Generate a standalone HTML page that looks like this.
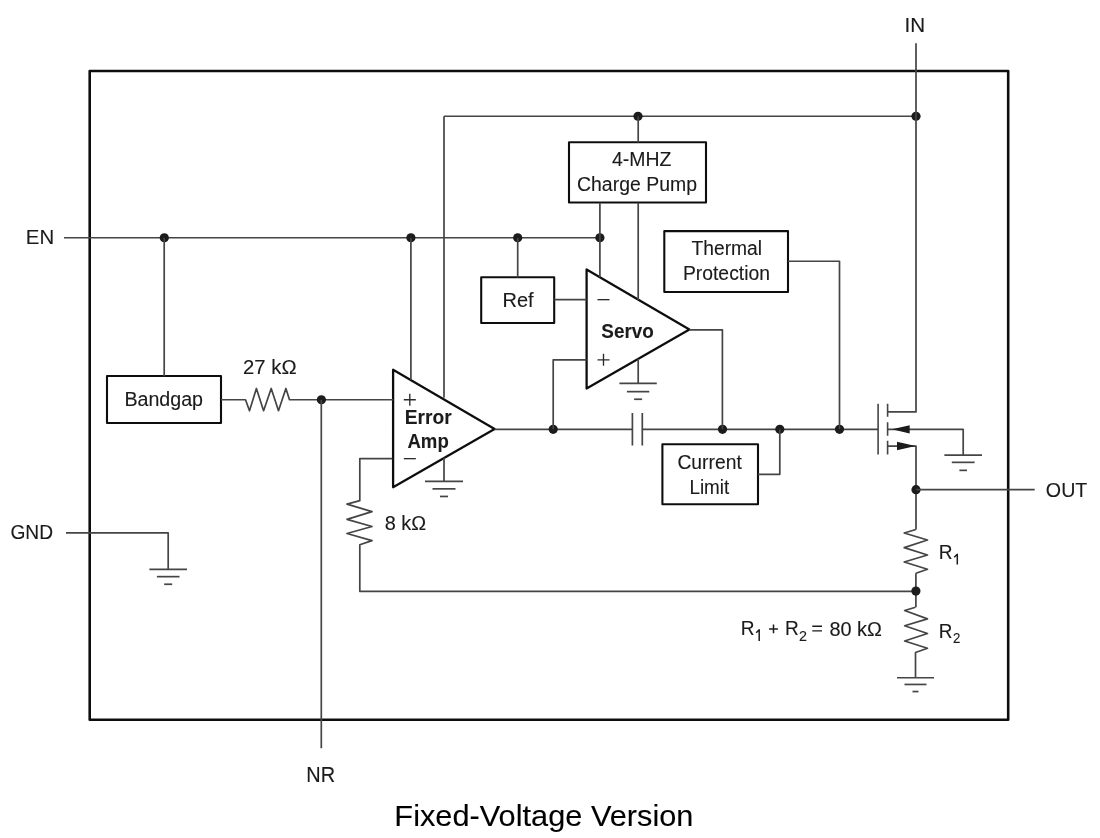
<!DOCTYPE html>
<html><head><meta charset="utf-8"><style>
html,body{margin:0;padding:0;background:#fff;width:1100px;height:838px;overflow:hidden}
svg{display:block;font-family:"Liberation Sans",sans-serif}
</style></head><body>
<svg width="1100" height="838" viewBox="0 0 1100 838">
<defs><filter id="bl" x="0" y="0" width="1100" height="838" filterUnits="userSpaceOnUse"><feGaussianBlur stdDeviation="0.4"/></filter></defs>
<rect width="1100" height="838" fill="#fff"/>
<g filter="url(#bl)">
<rect width="1100" height="838" fill="#fff"/>
<rect x="89.7" y="71" width="918.5" height="648.7" fill="none" stroke="#111" stroke-width="2.6" stroke-linejoin="round"/>
<rect x="107" y="376" width="114.00" height="47.00" fill="none" stroke="#111" stroke-width="2.1" stroke-linejoin="round"/>
<rect x="569" y="142.2" width="137.00" height="60.30" fill="none" stroke="#111" stroke-width="2.1" stroke-linejoin="round"/>
<rect x="481.2" y="277.3" width="73.00" height="45.70" fill="none" stroke="#111" stroke-width="2.1" stroke-linejoin="round"/>
<rect x="664.3" y="231.1" width="123.70" height="60.90" fill="none" stroke="#111" stroke-width="2.1" stroke-linejoin="round"/>
<rect x="662.4" y="444.2" width="95.60" height="60.10" fill="none" stroke="#111" stroke-width="2.1" stroke-linejoin="round"/>
<path d="M393.1,369.8V487.3L494.6,429.1Z" fill="none" stroke="#111" stroke-width="2.3" stroke-linejoin="round"/>
<path d="M586.6,269.4V388.6L689.4,329.6Z" fill="none" stroke="#111" stroke-width="2.3" stroke-linejoin="round"/>
<g transform="translate(0,0.25)">
<path d="M64,237.5H599.9" stroke="#444444" stroke-width="1.7" fill="none" stroke-linejoin="round"/>
<circle cx="164.3" cy="237.5" r="4.6" fill="#1a1a1a"/>
<circle cx="410.9" cy="237.5" r="4.6" fill="#1a1a1a"/>
<circle cx="517.7" cy="237.5" r="4.6" fill="#1a1a1a"/>
<circle cx="599.9" cy="237.5" r="4.6" fill="#1a1a1a"/>
<path d="M164.2,237.5V376" stroke="#444444" stroke-width="1.7" fill="none" stroke-linejoin="round"/>
<path d="M221,399.5H245.5L249.5,410.5L256.4,388.2L263.6,410.5L271.2,388.2L278.5,410.5L285.9,388.2L289.5,399.5H393" stroke="#444444" stroke-width="1.7" fill="none" stroke-linejoin="round"/>
<circle cx="321.4" cy="399.5" r="4.6" fill="#1a1a1a"/>
<path d="M321.3,399.5V748" stroke="#444444" stroke-width="1.7" fill="none" stroke-linejoin="round"/>
<path d="M410.9,237.5V379.7" stroke="#444444" stroke-width="1.7" fill="none" stroke-linejoin="round"/>
<path d="M444,116V397.5" stroke="#444444" stroke-width="1.7" fill="none" stroke-linejoin="round"/>
<path d="M444,457.5V481.2" stroke="#444444" stroke-width="1.7" fill="none" stroke-linejoin="round"/>
<path d="M425,481.2H463" stroke="#444444" stroke-width="1.7" fill="none" stroke-linejoin="round"/>
<path d="M432.5,488.6H455.5" stroke="#444444" stroke-width="1.7" fill="none" stroke-linejoin="round"/>
<path d="M440,496.2H448" stroke="#444444" stroke-width="1.7" fill="none" stroke-linejoin="round"/>
<path d="M403.8,399.5H415.8M409.8,393.5V405.5" stroke="#2a2a2a" stroke-width="1.35" fill="none" stroke-linejoin="round"/>
<path d="M403.8,458.4H415.8" stroke="#2a2a2a" stroke-width="1.35" fill="none" stroke-linejoin="round"/>
<path d="M392.3,458.3H359.8V500.4L347,503.9L372,511.4L347,519.1L372,526.2L347,533.3L372,540.4L359.8,544.5V591.1H915.9" stroke="#444444" stroke-width="1.7" fill="none" stroke-linejoin="round"/>
<path d="M494.6,429.1H632.5M642.2,429.1H878.1" stroke="#444444" stroke-width="1.7" fill="none" stroke-linejoin="round"/>
<path d="M632.4,412.7V445.2M642.3,412.7V445.2" stroke="#444444" stroke-width="1.7" fill="none" stroke-linejoin="round"/>
<circle cx="553.2" cy="429.1" r="4.6" fill="#1a1a1a"/>
<circle cx="722.5" cy="429.1" r="4.6" fill="#1a1a1a"/>
<circle cx="779.8" cy="429.1" r="4.6" fill="#1a1a1a"/>
<circle cx="839.5" cy="429.1" r="4.6" fill="#1a1a1a"/>
<path d="M553.2,429.1V359.6H586.6" stroke="#444444" stroke-width="1.7" fill="none" stroke-linejoin="round"/>
<path d="M444,116H916" stroke="#444444" stroke-width="1.7" fill="none" stroke-linejoin="round"/>
<circle cx="638" cy="116" r="4.6" fill="#1a1a1a"/>
<circle cx="916" cy="116" r="4.6" fill="#1a1a1a"/>
<path d="M638.2,116V142.2" stroke="#444444" stroke-width="1.7" fill="none" stroke-linejoin="round"/>
<path d="M599.9,202.5V277" stroke="#444444" stroke-width="1.7" fill="none" stroke-linejoin="round"/>
<path d="M638.2,202.5V299.7" stroke="#444444" stroke-width="1.7" fill="none" stroke-linejoin="round"/>
<path d="M638.2,358.3V383.2" stroke="#444444" stroke-width="1.7" fill="none" stroke-linejoin="round"/>
<path d="M619.4,383.2H656.8000000000001" stroke="#444444" stroke-width="1.7" fill="none" stroke-linejoin="round"/>
<path d="M626.9,391.4H649.3000000000001" stroke="#444444" stroke-width="1.7" fill="none" stroke-linejoin="round"/>
<path d="M634.1,399H642.1" stroke="#444444" stroke-width="1.7" fill="none" stroke-linejoin="round"/>
<path d="M517.7,237.5V277.3" stroke="#444444" stroke-width="1.7" fill="none" stroke-linejoin="round"/>
<path d="M554.2,299.4H586.6" stroke="#444444" stroke-width="1.7" fill="none" stroke-linejoin="round"/>
<path d="M597.5,299.4H609.5" stroke="#2a2a2a" stroke-width="1.35" fill="none" stroke-linejoin="round"/>
<path d="M597.5,359.6H609.5M603.5,353.6V365.6" stroke="#2a2a2a" stroke-width="1.35" fill="none" stroke-linejoin="round"/>
<path d="M689.4,329.7H722.4V429.1" stroke="#444444" stroke-width="1.7" fill="none" stroke-linejoin="round"/>
<path d="M788,261H839.5V429.1" stroke="#444444" stroke-width="1.7" fill="none" stroke-linejoin="round"/>
<path d="M758,474.1H779.8V429.1" stroke="#444444" stroke-width="1.7" fill="none" stroke-linejoin="round"/>
<path d="M878.1,403.5V454.3" stroke="#444444" stroke-width="1.6" fill="none" stroke-linejoin="round"/>
<path d="M887.6,403.5V416.6M887.6,422V435.5M887.6,440.4V454.3" stroke="#444444" stroke-width="1.6" fill="none" stroke-linejoin="round"/>
<path d="M887.6,411.7H916V43" stroke="#444444" stroke-width="1.7" fill="none" stroke-linejoin="round"/>
<path d="M887.6,429.1H963.2V454.8" stroke="#444444" stroke-width="1.7" fill="none" stroke-linejoin="round"/>
<path d="M892,429.1L909.7,424.90000000000003V433.3Z" fill="#1a1a1a"/>
<path d="M887.6,445.8H916V529.2" stroke="#444444" stroke-width="1.7" fill="none" stroke-linejoin="round"/>
<path d="M915.5,445.8L897,441.6V450Z" fill="#1a1a1a"/>
<path d="M944.4000000000001,454.8H982.0" stroke="#444444" stroke-width="1.7" fill="none" stroke-linejoin="round"/>
<path d="M951.8000000000001,462.1H974.6" stroke="#444444" stroke-width="1.7" fill="none" stroke-linejoin="round"/>
<path d="M959.4000000000001,470.1H967.0" stroke="#444444" stroke-width="1.7" fill="none" stroke-linejoin="round"/>
<circle cx="916" cy="489.4" r="4.6" fill="#1a1a1a"/>
<path d="M916,489.4H1034.7" stroke="#444444" stroke-width="1.7" fill="none" stroke-linejoin="round"/>
<path d="M915.9,573L927.5,569L904.2,561.8L927.5,554.8L904.2,547.4L927.5,539.8L904.2,532.7L915.9,529.2" stroke="#444444" stroke-width="1.7" fill="none" stroke-linejoin="round"/>
<path d="M915.9,573V607" stroke="#444444" stroke-width="1.7" fill="none" stroke-linejoin="round"/>
<circle cx="915.9" cy="590.8" r="4.6" fill="#1a1a1a"/>
<path d="M915.5,607L904.6,610.3L927.5,618.6L904.6,625.5L927.5,633.2L904.6,640.8L927.5,648L915.5,652.2V677.5" stroke="#444444" stroke-width="1.7" fill="none" stroke-linejoin="round"/>
<path d="M897.0,677.5H934.0" stroke="#444444" stroke-width="1.7" fill="none" stroke-linejoin="round"/>
<path d="M904.5,684.2H926.5" stroke="#444444" stroke-width="1.7" fill="none" stroke-linejoin="round"/>
<path d="M912.5,691.3H918.5" stroke="#444444" stroke-width="1.7" fill="none" stroke-linejoin="round"/>
<path d="M773.5,624.5V633.3M769.1,628.9H777.9" stroke="#1a1a1a" stroke-width="1.5" fill="none" transform="translate(0,-0.25)"/>
<path d="M812.3,626.2H822M812.3,630.9H822" stroke="#1a1a1a" stroke-width="1.4" fill="none" transform="translate(0,-0.25)"/>
<path d="M957.3,564.5V554.2L954.2,557.2" stroke="#1a1a1a" stroke-width="1.5" fill="none" stroke-linejoin="round" transform="translate(0,-0.25)"/>
<path d="M759.2,641V629.8L756.2,632.8" stroke="#1a1a1a" stroke-width="1.5" fill="none" stroke-linejoin="round" transform="translate(0,-0.25)"/>
<path d="M66,532.7H168.2V569.1" stroke="#444444" stroke-width="1.7" fill="none" stroke-linejoin="round"/>
<path d="M149.39999999999998,569.1H187.0" stroke="#444444" stroke-width="1.7" fill="none" stroke-linejoin="round"/>
<path d="M156.89999999999998,576.4H179.5" stroke="#444444" stroke-width="1.7" fill="none" stroke-linejoin="round"/>
<path d="M164.2,584H172.2" stroke="#444444" stroke-width="1.7" fill="none" stroke-linejoin="round"/>
</g>
<text x="25.82" y="244.00" font-size="20.72" fill="#1a1a1a" stroke="#1a1a1a" stroke-width="0.12" textLength="28.35" lengthAdjust="spacingAndGlyphs">EN</text>
<text x="904.59" y="31.80" font-size="20.72" fill="#1a1a1a" stroke="#1a1a1a" stroke-width="0.12" textLength="20.61" lengthAdjust="spacingAndGlyphs">IN</text>
<text x="10.44" y="539.40" font-size="20.72" fill="#1a1a1a" stroke="#1a1a1a" stroke-width="0.12" textLength="42.67" lengthAdjust="spacingAndGlyphs">GND</text>
<text x="1045.87" y="497.00" font-size="20.72" fill="#1a1a1a" stroke="#1a1a1a" stroke-width="0.12" textLength="41.49" lengthAdjust="spacingAndGlyphs">OUT</text>
<text x="306.26" y="782.20" font-size="21.52" fill="#1a1a1a" stroke="#1a1a1a" stroke-width="0.12" textLength="28.78" lengthAdjust="spacingAndGlyphs">NR</text>
<text x="124.38" y="405.90" font-size="19.77" fill="#1a1a1a" stroke="#1a1a1a" stroke-width="0.12" textLength="78.64" lengthAdjust="spacingAndGlyphs">Bandgap</text>
<text x="612.06" y="166.10" font-size="19.77" fill="#1a1a1a" stroke="#1a1a1a" stroke-width="0.12" textLength="59.32" lengthAdjust="spacingAndGlyphs">4-MHZ</text>
<text x="577.03" y="191.30" font-size="19.77" fill="#1a1a1a" stroke="#1a1a1a" stroke-width="0.12" textLength="119.95" lengthAdjust="spacingAndGlyphs">Charge Pump</text>
<text x="502.45" y="307.10" font-size="19.77" fill="#1a1a1a" stroke="#1a1a1a" stroke-width="0.12" textLength="31.12" lengthAdjust="spacingAndGlyphs">Ref</text>
<text x="691.47" y="254.70" font-size="19.77" fill="#1a1a1a" stroke="#1a1a1a" stroke-width="0.12" textLength="70.63" lengthAdjust="spacingAndGlyphs">Thermal</text>
<text x="682.90" y="280.40" font-size="19.77" fill="#1a1a1a" stroke="#1a1a1a" stroke-width="0.12" textLength="87.11" lengthAdjust="spacingAndGlyphs">Protection</text>
<text x="677.43" y="468.50" font-size="19.77" fill="#1a1a1a" stroke="#1a1a1a" stroke-width="0.12" textLength="64.40" lengthAdjust="spacingAndGlyphs">Current</text>
<text x="689.44" y="493.90" font-size="19.77" fill="#1a1a1a" stroke="#1a1a1a" stroke-width="0.12" textLength="39.82" lengthAdjust="spacingAndGlyphs">Limit</text>
<text x="404.71" y="423.70" font-size="20.72" font-weight="bold" fill="#1a1a1a" stroke="#1a1a1a" stroke-width="0.1" textLength="46.89" lengthAdjust="spacingAndGlyphs">Error</text>
<text x="407.44" y="447.60" font-size="20.72" font-weight="bold" fill="#1a1a1a" stroke="#1a1a1a" stroke-width="0.1" textLength="41.30" lengthAdjust="spacingAndGlyphs">Amp</text>
<text x="601.33" y="337.60" font-size="19.93" font-weight="bold" fill="#1a1a1a" stroke="#1a1a1a" stroke-width="0.1" textLength="52.51" lengthAdjust="spacingAndGlyphs">Servo</text>
<text x="243.09" y="374.40" font-size="19.77" fill="#1a1a1a" stroke="#1a1a1a" stroke-width="0.12" textLength="53.48" lengthAdjust="spacingAndGlyphs">27 kΩ</text>
<text x="384.75" y="529.80" font-size="19.77" fill="#1a1a1a" stroke="#1a1a1a" stroke-width="0.12" textLength="41.48" lengthAdjust="spacingAndGlyphs">8 kΩ</text>
<text x="938.63" y="558.60" font-size="20.72" fill="#1a1a1a" stroke="#1a1a1a" stroke-width="0.12" textLength="13.77" lengthAdjust="spacingAndGlyphs">R</text>
<text x="938.74" y="638.40" font-size="20.72" fill="#1a1a1a" stroke="#1a1a1a" stroke-width="0.12" textLength="13.65" lengthAdjust="spacingAndGlyphs">R</text>
<text x="952.94" y="643.40" font-size="14.83" fill="#1a1a1a" stroke="#1a1a1a" stroke-width="0.12" textLength="7.33" lengthAdjust="spacingAndGlyphs">2</text>
<text x="740.73" y="635.20" font-size="20.72" fill="#1a1a1a" stroke="#1a1a1a" stroke-width="0.12" textLength="13.77" lengthAdjust="spacingAndGlyphs">R</text>
<text x="785.03" y="635.20" font-size="20.72" fill="#1a1a1a" stroke="#1a1a1a" stroke-width="0.12" textLength="13.77" lengthAdjust="spacingAndGlyphs">R</text>
<text x="798.89" y="641.20" font-size="14.83" fill="#1a1a1a" stroke="#1a1a1a" stroke-width="0.12" textLength="7.95" lengthAdjust="spacingAndGlyphs">2</text>
<text x="829.45" y="635.60" font-size="19.77" fill="#1a1a1a" stroke="#1a1a1a" stroke-width="0.12" textLength="52.50" lengthAdjust="spacingAndGlyphs">80 kΩ</text>
<text x="394.36" y="825.70" font-size="29.97" fill="#000" stroke="#000" stroke-width="0.1" textLength="299.08" lengthAdjust="spacingAndGlyphs">Fixed-Voltage Version</text>
</g>
</svg>
</body></html>
